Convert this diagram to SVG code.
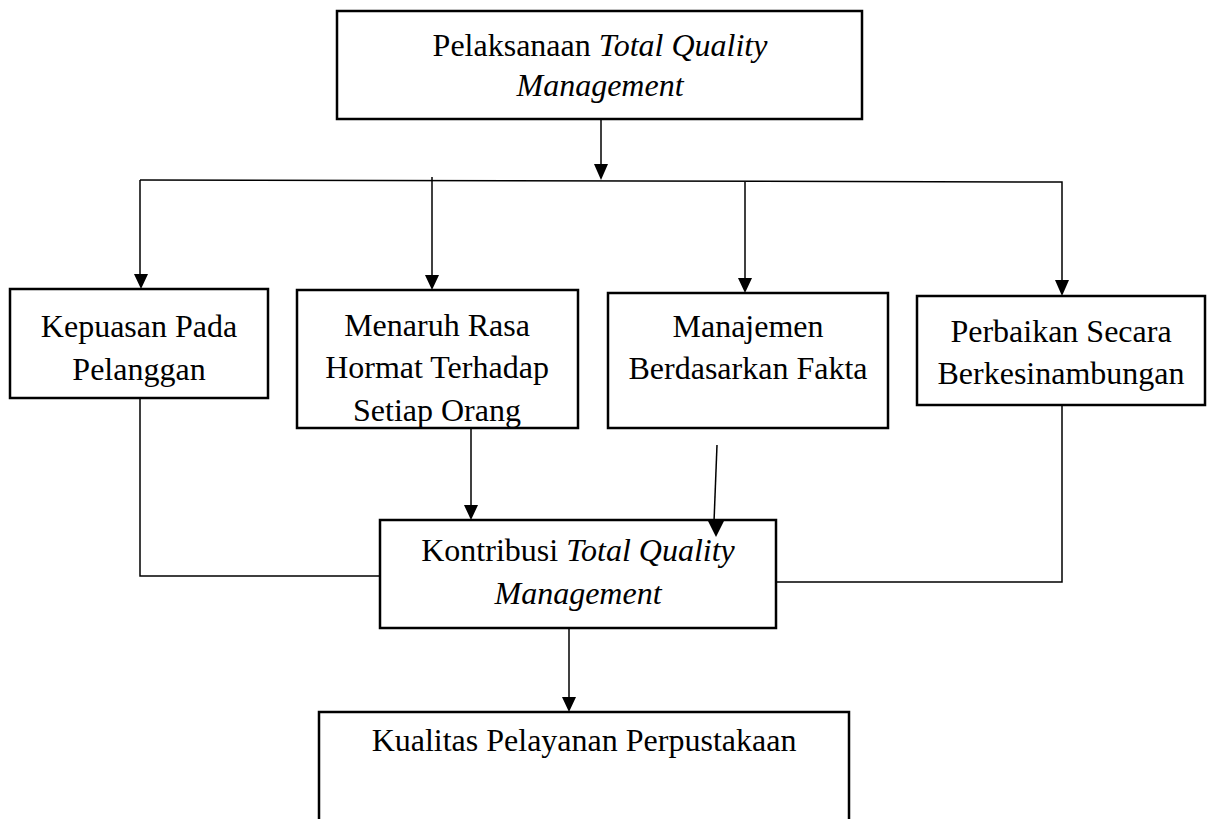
<svg xmlns="http://www.w3.org/2000/svg" width="1211" height="819" viewBox="0 0 1211 819">
<style>
.box{fill:#fff;stroke:#000;stroke-width:2.5}
.ln{fill:none;stroke:#000;stroke-width:1.5}
.ah{fill:#000}
.t{font-family:"Liberation Serif","Times New Roman",serif;font-size:32px;fill:#000;text-anchor:middle}
.i{font-style:italic}
</style>
<g id="n-top">
<rect class="box" x="337" y="11" width="525" height="108"/>
<text class="t" x="600" y="56">Pelaksanaan <tspan class="i">Total Quality</tspan></text>
<text class="t i" x="600" y="96">Management</text>
</g>
<g id="n-kepuasan">
<rect class="box" x="10" y="289" width="258" height="109"/>
<text class="t" x="139" y="337">Kepuasan Pada</text>
<text class="t" x="139" y="380">Pelanggan</text>
</g>
<g id="n-menaruh">
<rect class="box" x="297" y="290" width="281" height="138"/>
<text class="t" x="437" y="336">Menaruh Rasa</text>
<text class="t" x="437" y="378">Hormat Terhadap</text>
<text class="t" x="437" y="421">Setiap Orang</text>
</g>
<g id="n-manajemen">
<rect class="box" x="608" y="293" width="280" height="135"/>
<text class="t" x="748" y="337">Manajemen</text>
<text class="t" x="748" y="379">Berdasarkan Fakta</text>
</g>
<g id="n-perbaikan">
<rect class="box" x="917" y="296" width="288" height="109"/>
<text class="t" x="1061" y="342">Perbaikan Secara</text>
<text class="t" x="1061" y="384">Berkesinambungan</text>
</g>
<g id="n-kontribusi">
<rect class="box" x="380" y="520" width="396" height="108"/>
<text class="t" x="578" y="561">Kontribusi <tspan class="i">Total Quality</tspan></text>
<text class="t i" x="578" y="604">Management</text>
</g>
<g id="n-kualitas">
<rect class="box" x="319" y="712" width="530" height="120"/>
<text class="t" x="584" y="751">Kualitas Pelayanan Perpustakaan</text>
</g>
<g id="connectors">
<line class="ln" x1="601" y1="120" x2="601" y2="165"/>
<polygon class="ah" points="594,164 608,164 601,180"/>
<polyline class="ln" points="140,180 1062,182 1062,281"/>
<polygon class="ah" points="1055,280 1069,280 1062,296"/>
<line class="ln" x1="140" y1="180" x2="140" y2="275"/>
<polygon class="ah" points="134,274 148,274 141,289"/>
<line class="ln" x1="432" y1="177" x2="432" y2="276"/>
<polygon class="ah" points="425,275 439,275 432,290"/>
<line class="ln" x1="745" y1="182" x2="745" y2="279"/>
<polygon class="ah" points="738,278 752,278 745,293"/>
<polyline class="ln" points="140,399 140,576 379,576"/>
<line class="ln" x1="471" y1="429" x2="471" y2="506"/>
<polygon class="ah" points="464,505 478,505 471,520"/>
<line class="ln" x1="717" y1="445" x2="714" y2="522"/>
<polygon class="ah" points="708,521 724,521 716,537"/>
<polyline class="ln" points="777,582 1062,582 1062,406"/>
<line class="ln" x1="569" y1="629" x2="569" y2="698"/>
<polygon class="ah" points="562,697 576,697 569,712"/>
</g>
</svg>
